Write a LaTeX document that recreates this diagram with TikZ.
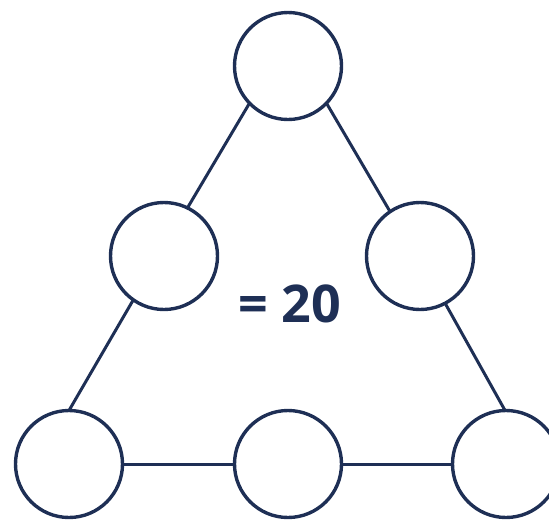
\documentclass[tikz,border=0pt]{standalone}
\usepackage{fontspec}
\setmainfont{Open Sans}
\definecolor{navy}{HTML}{1E2F55}
\begin{document}
\begin{tikzpicture}[x=1pt,y=-1pt,
  ring/.style={circle,draw=navy,line width=3.4pt,minimum size=107pt,inner sep=0pt,outer sep=0pt},
  edge/.style={draw=navy,line width=3pt}]
\useasboundingbox (0,0) rectangle (549,520);
\node[ring] (t) at (288,66) {};
\node[ring] (ml) at (164,256) {};
\node[ring] (mr) at (420,256) {};
\node[ring] (bl) at (69,464) {};
\node[ring] (bm) at (288,464) {};
\node[ring] (br) at (506,464) {};
\draw[edge] (t.224) -- (ml.64);
\draw[edge] (t.316) -- (mr.124);
\draw[edge] (ml.235) -- (bl.90);
\draw[edge] (mr.298) -- (br.91);
\draw[edge] (bl.east) -- (bm.west);
\draw[edge] (bm.east) -- (br.west);
\node[text=navy,font=\bfseries\fontsize{52}{60}\selectfont,inner sep=0pt] (lbl) at (290,304) {= 20};
\end{tikzpicture}
\end{document}
